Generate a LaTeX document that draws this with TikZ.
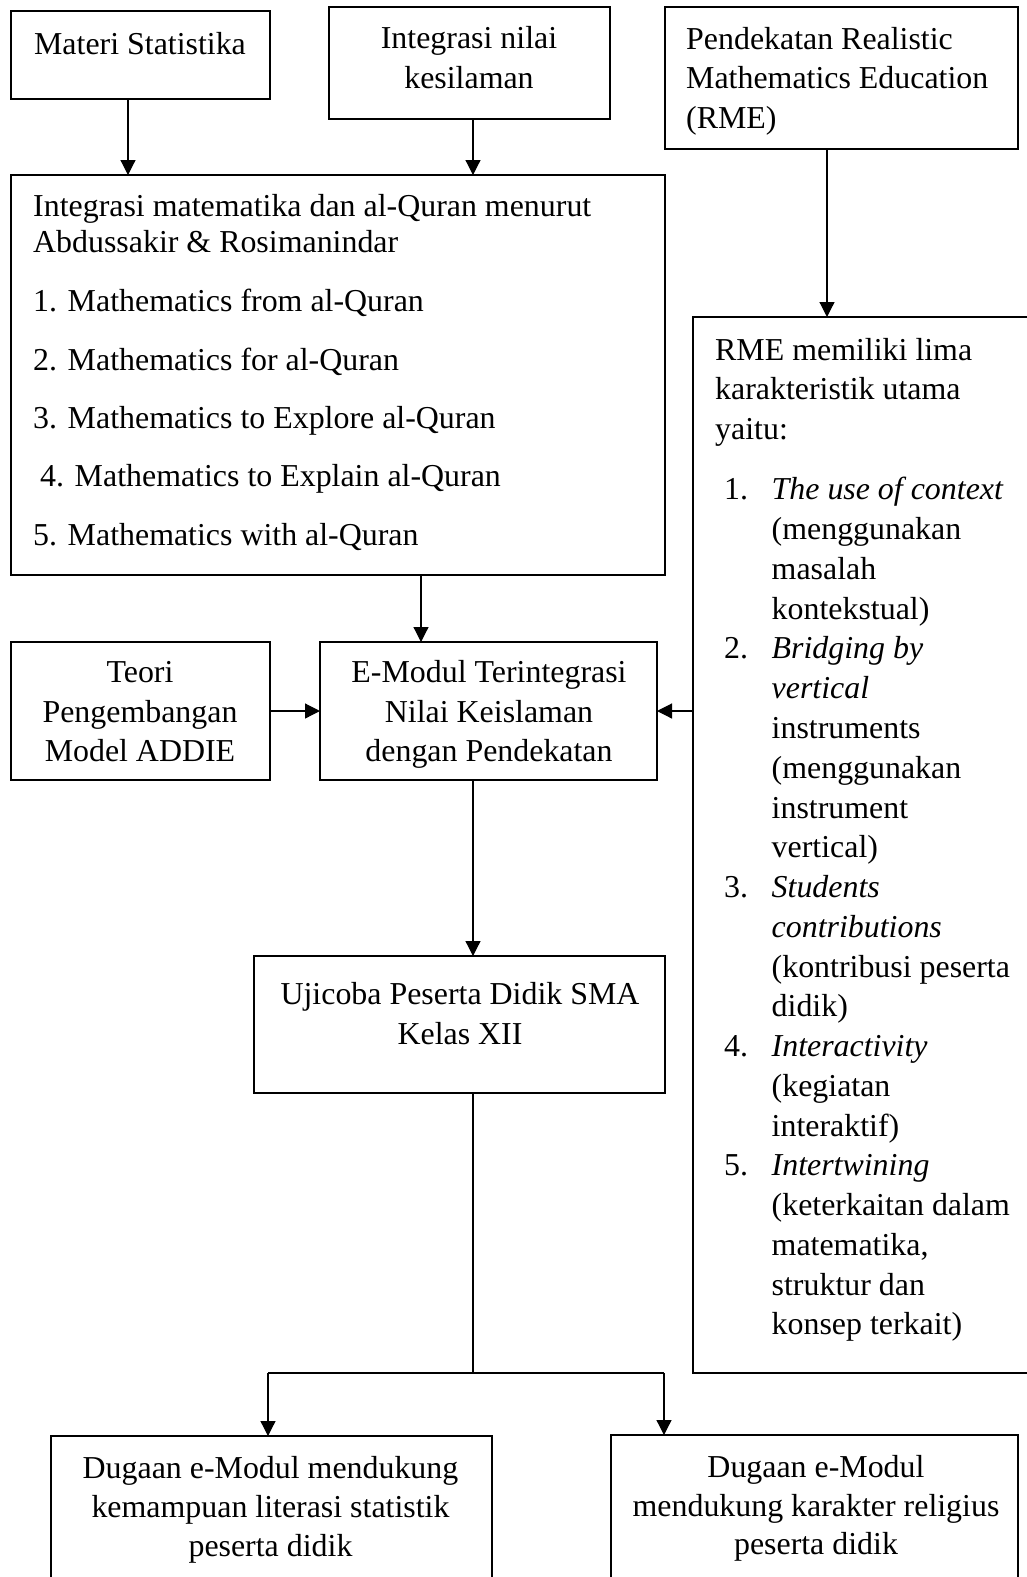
\documentclass[tikz,border=0pt]{standalone}
\usepackage{fontspec}
\setmainfont{Liberation Serif}
\usetikzlibrary{arrows.meta,calc}
\tikzset{
  box/.style={draw, line width=2.3pt, inner sep=0pt, outer sep=0pt, anchor=north west},
  arr/.style={-{Triangle[length=15pt,width=15pt]}, line width=1.2pt},
  conn/.style={line width=1.2pt},
  txt/.style={inner sep=0pt, font=\fontsize{31.9}{39.5}\selectfont},
}
\begin{document}
\begin{tikzpicture}[x=1pt,y=-1pt]
\useasboundingbox (0,0) rectangle (1027,1577);
\clip (0,0) rectangle (1027,1577);
% boxes
\node[box, minimum width=259pt, minimum height=88pt] (b1) at (11,11) {};
\node[box, minimum width=281pt, minimum height=112pt] (b2) at (329,7) {};
\node[box, minimum width=353pt, minimum height=142pt] (b3) at (665,7) {};
\node[box, minimum width=654pt, minimum height=400pt] (big) at (11,175) {};
\node[box, minimum width=345pt, minimum height=1056pt] (rme) at (693,317) {};
\node[box, minimum width=259pt, minimum height=138pt] (teori) at (11,642) {};
\node[box, minimum width=337pt, minimum height=138pt] (emod) at (320,642) {};
\node[box, minimum width=411pt, minimum height=137pt] (uji) at (254,956) {};
\node[box, minimum width=441pt, minimum height=164pt] (botl) at (51,1436) {};
\node[box, minimum width=407pt, minimum height=164pt] (botr) at (611,1435) {};
% texts
\node[txt, anchor=north, align=center] (t1) at (140,27) {\strut Materi Statistika};
\node[txt, anchor=north, align=center] (t2) at (469,21) {\strut Integrasi nilai\\kesilaman};
\node[txt, anchor=north west, align=left] (t3) at (686,21.5) {\strut Pendekatan Realistic\\Mathematics Education\\(RME)};
\node[txt, anchor=north west, align=left, font=\fontsize{31.9}{36}\selectfont] (t4) at (33,191.4) {\strut Integrasi matematika dan al-Quran menurut\\Abdussakir \& Rosimanindar\\[23pt]
1. Mathematics from al-Quran\\[22.3pt]
2. Mathematics for al-Quran\\[22.3pt]
3. Mathematics to Explore al-Quran\\[22.3pt]
\hspace*{7pt}4. Mathematics to Explain al-Quran\\[22.3pt]
5. Mathematics with al-Quran};
\node[txt, anchor=north west, align=left, font=\fontsize{31.9}{39.76}\selectfont] (t5) at (715,332) {\strut RME memiliki lima\\karakteristik utama\\yaitu:\\[20.6pt]
\hspace*{9pt}\makebox[47.5pt][l]{1.}\textit{The use of context}\\
\hspace*{56.5pt}(menggunakan\\
\hspace*{56.5pt}masalah\\
\hspace*{56.5pt}kontekstual)\\
\hspace*{9pt}\makebox[47.5pt][l]{2.}\textit{Bridging by}\\
\hspace*{56.5pt}\textit{vertical}\\
\hspace*{56.5pt}instruments\\
\hspace*{56.5pt}(menggunakan\\
\hspace*{56.5pt}instrument\\
\hspace*{56.5pt}vertical)\\
\hspace*{9pt}\makebox[47.5pt][l]{3.}\textit{Students}\\
\hspace*{56.5pt}\textit{contributions}\\
\hspace*{56.5pt}(kontribusi peserta\\
\hspace*{56.5pt}didik)\\
\hspace*{9pt}\makebox[47.5pt][l]{4.}\textit{Interactivity}\\
\hspace*{56.5pt}(kegiatan\\
\hspace*{56.5pt}interaktif)\\
\hspace*{9pt}\makebox[47.5pt][l]{5.}\textit{Intertwining}\\
\hspace*{56.5pt}(keterkaitan dalam\\
\hspace*{56.5pt}matematika,\\
\hspace*{56.5pt}struktur dan\\
\hspace*{56.5pt}konsep terkait)};
\node[txt, anchor=north, align=center] (t6) at (140,655) {\strut Teori\\Pengembangan\\Model ADDIE};
\node[txt, anchor=north, align=center] (t7) at (489,655) {\strut E-Modul Terintegrasi\\Nilai Keislaman\\dengan Pendekatan};
\node[txt, anchor=north, align=center] (t8) at (460,977) {\strut Ujicoba Peserta Didik SMA\\Kelas XII};
\node[txt, anchor=north, align=center, font=\fontsize{31.9}{38.7}\selectfont] (t9) at (270.5,1451.6) {\strut Dugaan e-Modul mendukung\\kemampuan literasi statistik\\peserta didik};
\node[txt, anchor=north, align=center, font=\fontsize{31.9}{38.7}\selectfont] (t10) at (816,1450) {\strut Dugaan e-Modul\\mendukung karakter religius\\peserta didik};
% connectors
\coordinate (a1) at ([xshift=-12.5pt]b1.south);
\coordinate (a2) at ([xshift=3.5pt]b2.south);
\coordinate (a3) at ([xshift=-14.5pt]b3.south);
\coordinate (a4) at ([xshift=83pt]big.south);
\coordinate (a5) at ([xshift=-15.5pt]emod.south);
\coordinate (u0) at ([xshift=13.5pt]uji.south);
\coordinate (j) at (473,1373);
\coordinate (jl) at (268,1373);
\coordinate (jr) at (664,1373);
\draw[arr] (a1) -- (a1 |- big.north);
\draw[arr] (a2) -- (a2 |- big.north);
\draw[arr] (a3) -- (a3 |- rme.north);
\draw[arr] (a4) -- (a4 |- emod.north);
\draw[arr] (teori.east) -- (emod.west);
\draw[arr] (rme.west |- emod.east) -- (emod.east);
\draw[arr] (a5) -- (a5 |- uji.north);
\draw[conn] (u0) -- (j);
\draw[conn] (jl) -- (jr);
\draw[arr] (jl) -- (jl |- botl.north);
\draw[arr] (jr) -- (jr |- botr.north);
\end{tikzpicture}
\end{document}
